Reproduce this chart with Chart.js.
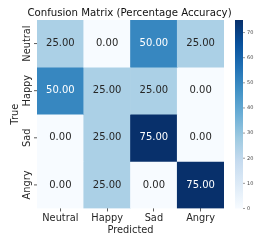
<!DOCTYPE html>
<html>
<head>
<meta charset="utf-8">
<script src="https://cdn.jsdelivr.net/npm/chart.js@4.4.1/dist/chart.umd.min.js"></script>
<style>
  html, body { margin: 0; padding: 0; background: #fff; }
  #wrap { width: 266px; height: 244px; position: relative; }
</style>
</head>
<body>
<div id="wrap"><canvas id="c" width="266" height="244"></canvas></div>
<script>
// ---- data ----
const titleText = 'Confusion Matrix (Percentage Accuracy)';
const predLabels = ['Neutral', 'Happy', 'Sad', 'Angry'];
const trueLabels = ['Neutral', 'Happy', 'Sad', 'Angry'];
const rowNeutral = [25, 0, 50, 25];
const rowHappy = [50, 25, 25, 0];
const rowSad = [0, 25, 75, 0];
const rowAngry = [0, 25, 0, 75];
const matrix = [rowNeutral, rowHappy, rowSad, rowAngry];
const colorbarTicks = [0, 10, 20, 30, 40, 50, 60, 70];
const vMin = 0;
const vMax = 75;

// ---- Blues colormap ----
const bluesStops = ['#f7fbff', '#deebf7', '#c6dbef', '#9ecae1', '#6baed6', '#4292c6', '#2171b5', '#08519c', '#08306b'];
function hexToRgb(h) { return [parseInt(h.slice(1,3),16), parseInt(h.slice(3,5),16), parseInt(h.slice(5,7),16)]; }
function bluesRgb(t) {
  t = Math.max(0, Math.min(1, t));
  const n = bluesStops.length - 1;
  const i = Math.min(n - 1, Math.floor(t * n));
  const f = t * n - i;
  const a = hexToRgb(bluesStops[i]), b = hexToRgb(bluesStops[i + 1]);
  return a.map((v, k) => Math.round(v + (b[k] - v) * f));
}
function colorFor(v) { const c = bluesRgb((v - vMin) / (vMax - vMin)); return `rgb(${c[0]},${c[1]},${c[2]})`; }
function textFor(v) {
  const c = bluesRgb((v - vMin) / (vMax - vMin)).map(x => { x /= 255; return x <= 0.03928 ? x / 12.92 : Math.pow((x + 0.055) / 1.055, 2.4); });
  const lum = 0.2126 * c[0] + 0.7152 * c[1] + 0.0722 * c[2];
  return lum > 0.408 ? '#262626' : '#ffffff';
}

const FONT = 'DejaVu Sans';

const datasets = matrix.map((row, i) => ({
  label: trueLabels[i],
  data: row.map(() => 1),
  values: row,
  backgroundColor: row.map(colorFor),
  borderWidth: 0,
  barPercentage: 1,
  categoryPercentage: 1
}));

const heatPlugin = {
  id: 'heatExtras',
  afterDatasetsDraw(chart) {
    const ctx = chart.ctx;
    ctx.save();
    ctx.font = `10px "${FONT}"`;
    ctx.textAlign = 'center';
    ctx.textBaseline = 'middle';
    chart.data.datasets.forEach((ds, i) => {
      const meta = chart.getDatasetMeta(i);
      meta.data.forEach((bar, j) => {
        const v = ds.values[j];
        ctx.fillStyle = textFor(v);
        ctx.fillText(v.toFixed(2), bar.x, (bar.y + bar.base) / 2);
      });
    });
    ctx.restore();
  },
  afterDraw(chart) {
    const ctx = chart.ctx;
    const area = chart.chartArea;
    const meta0 = chart.data.datasets.map((_, i) => chart.getDatasetMeta(i).data[0]);
    ctx.save();
    // title
    ctx.font = `10.2px "${FONT}"`;
    ctx.fillStyle = '#111';
    ctx.textAlign = 'center';
    ctx.textBaseline = 'middle';
    ctx.fillText(titleText, (area.left + area.right) / 2 - 1, area.top - 7);

    // y tick labels + tick marks
    ctx.font = `9.8px "${FONT}"`;
    ctx.fillStyle = '#262626';
    ctx.strokeStyle = '#333';
    ctx.lineWidth = 0.8;
    meta0.forEach((bar, i) => {
      const cy = (bar.y + bar.base) / 2;
      ctx.beginPath();
      ctx.moveTo(area.left - 3, cy);
      ctx.lineTo(area.left, cy);
      ctx.stroke();
      ctx.save();
      ctx.translate(area.left - 10, cy);
      ctx.rotate(-Math.PI / 2);
      ctx.textAlign = 'center';
      ctx.textBaseline = 'middle';
      ctx.fillText(trueLabels[i], 0, 0);
      ctx.restore();
    });
    // y axis title
    ctx.save();
    ctx.translate(area.left - 22, (area.top + area.bottom) / 2);
    ctx.rotate(-Math.PI / 2);
    ctx.textAlign = 'center';
    ctx.textBaseline = 'middle';
    ctx.fillText('True', 0, 0);
    ctx.restore();

    // colorbar
    const x0 = area.right + 11, w = 8;
    const top = area.top, bottom = area.bottom;
    const grad = ctx.createLinearGradient(0, bottom, 0, top);
    bluesStops.forEach((c, k) => grad.addColorStop(k / (bluesStops.length - 1), c));
    ctx.fillStyle = grad;
    ctx.fillRect(x0, top, w, bottom - top);
    ctx.font = `5px "${FONT}"`;
    ctx.fillStyle = '#444';
    ctx.strokeStyle = '#555';
    ctx.lineWidth = 0.6;
    ctx.textAlign = 'left';
    ctx.textBaseline = 'middle';
    colorbarTicks.forEach(t => {
      const y = bottom - (t - vMin) / (vMax - vMin) * (bottom - top);
      ctx.beginPath();
      ctx.moveTo(x0 + w, y);
      ctx.lineTo(x0 + w + 2, y);
      ctx.stroke();
      ctx.fillText(String(t), x0 + w + 4, y);
    });
    ctx.restore();
  }
};

new Chart(document.getElementById('c'), {
  type: 'bar',
  data: { labels: predLabels, datasets },
  options: {
    responsive: false,
    animation: false,
    devicePixelRatio: 1,
    layout: { padding: { left: 37, right: 42, top: 20, bottom: 8 } },
    plugins: {
      legend: { display: false },
      tooltip: { enabled: false },
      title: { display: false }
    },
    scales: {
      x: {
        type: 'category',
        stacked: true,
        offset: true,
        grid: { offset: false, drawOnChartArea: false, drawTicks: true, tickLength: 3, color: '#333', lineWidth: 0.8 },
        border: { display: false },
        ticks: { color: '#262626', font: { family: FONT, size: 9.8 }, padding: 1, maxRotation: 0, minRotation: 0 },
        title: { display: true, text: 'Predicted', color: '#262626', font: { family: FONT, size: 9.8 }, padding: { top: -1, bottom: 0 } }
      },
      y: {
        type: 'linear',
        stacked: true,
        reverse: true,
        min: 0,
        max: trueLabels.length,
        display: false
      }
    }
  },
  plugins: [heatPlugin]
});
</script>
</body>
</html>
